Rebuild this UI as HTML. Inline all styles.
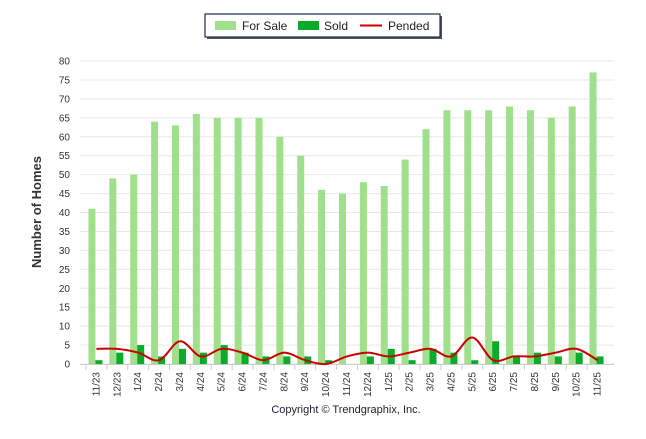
<!DOCTYPE html>
<html><head><meta charset="utf-8"><style>
body{margin:0;background:#fff;font-family:"Liberation Sans",sans-serif}
svg text{font-family:"Liberation Sans",sans-serif}
</style></head><body>
<svg id="c" width="646" height="434" xmlns="http://www.w3.org/2000/svg">
<g>
<rect x="207" y="16" width="235" height="23" fill="#555"/>
<rect x="205" y="14" width="235" height="23" fill="#fff" stroke="#1f2a4f" stroke-width="1.2"/>
<rect x="215" y="21" width="21" height="9" fill="#a0e08a"/>
<text x="242" y="30" font-size="12" fill="#222">For Sale</text>
<rect x="298" y="21" width="21" height="9" fill="#0aab2a"/>
<text x="324" y="30" font-size="12" fill="#222">Sold</text>
<line x1="360" y1="25.5" x2="382" y2="25.5" stroke="#c00" stroke-width="2"/>
<text x="388" y="30" font-size="12" fill="#222">Pended</text>
</g>
<text transform="translate(41,212) rotate(-90)" text-anchor="middle" font-size="13" font-weight="bold" fill="#333">Number of Homes</text>
<text x="346" y="413" text-anchor="middle" font-size="11" fill="#223">Copyright © Trendgraphix, Inc.</text>
<g id="plot"></g>
</svg>
<script>
const categories=["11/23","12/23","1/24","2/24","3/24","4/24","5/24","6/24","7/24","8/24","9/24","10/24","11/24","12/24","1/25","2/25","3/25","4/25","5/25","6/25","7/25","8/25","9/25","10/25","11/25"];
const forSale=[41,49,50,64,63,66,65,65,65,60,55,46,45,48,47,54,62,67,67,67,68,67,65,68,77];
const sold=[1,3,5,2,4,3,5,3,2,2,2,1,0,2,4,1,4,3,1,6,2,3,2,3,2];
const pended=[4,4,3,1,6,2,4,3,1,3,1,0,2,3,2,3,4,2,7,1,2,2,3,4,1];
const yTicks=[0,5,10,15,20,25,30,35,40,45,50,55,60,65,70,75,80];
const NS="http://www.w3.org/2000/svg";
const g=document.getElementById('plot');
const x0=86,x1=608,y0=364,y1=61,yMax=80;
const band=(x1-x0)/categories.length;
const X=i=>x0+band*(i+0.5);
const Y=v=>y0-(v/yMax)*(y0-y1);
function mk(t,a){const e=document.createElementNS(NS,t);for(const k in a)e.setAttribute(k,a[k]);g.appendChild(e);return e;}
yTicks.forEach(t=>{
 const l=mk('line',{x1:x0-6,x2:x1+6,y1:Y(t),y2:Y(t),stroke:'#e8e8e8'});
 
 
 const tx=mk('text',{x:x0-16,y:Y(t)+3.5,'text-anchor':'end','font-size':'10',fill:'#333'});
 tx.textContent=t;
 
 
});
const ax=mk('line',{x1:x0-6,x2:x1+6,y1:y0+0.5,y2:y0+0.5,stroke:'#ccc'});


categories.forEach((c,i)=>{
 const tk=mk('line',{x1:x0+band*i,x2:x0+band*i,y1:y0,y2:y0+6,stroke:'#ccc'});
 
 
 const b=mk('rect',{x:X(i)-8,y:Y(forSale[i]),width:7,height:y0-Y(forSale[i]),fill:'#a0e08a'});
 
 
 const s=mk('rect',{x:X(i)-1,y:Y(sold[i]),width:7,height:y0-Y(sold[i]),fill:'#0aab2a'});
 
 
 const t=mk('text',{transform:`translate(${X(i)+3},${y0+8}) rotate(-90)`,'text-anchor':'end','font-size':'10',fill:'#333'});
 t.textContent=c;
 
 
});
const pts=pended.map((v,i)=>[X(i),Y(v)]);
let d=`M${pts[0][0]},${pts[0][1]}`;
for(let i=0;i<pts.length-1;i++){
 const p0=pts[Math.max(0,i-1)],p1=pts[i],p2=pts[i+1],p3=pts[Math.min(pts.length-1,i+2)];
 const k=1/6;
 d+=` C${p1[0]+(p2[0]-p0[0])*k},${p1[1]+(p2[1]-p0[1])*k} ${p2[0]-(p3[0]-p1[0])*k},${p2[1]-(p3[1]-p1[1])*k} ${p2[0]},${p2[1]}`;
}
const pl=mk('path',{d:d,fill:'none',stroke:'#c00',"stroke-width":2});


</script>
</body></html>
